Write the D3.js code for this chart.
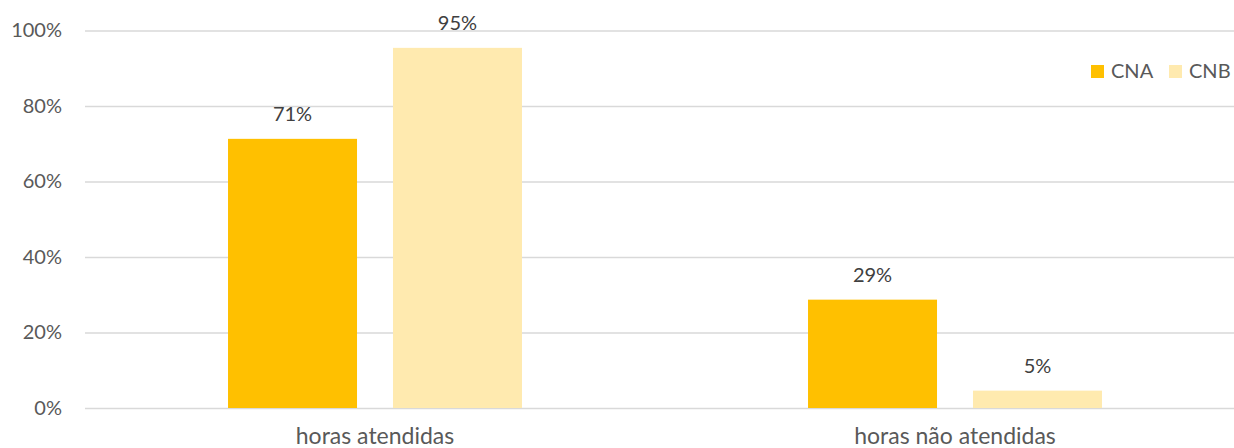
<!DOCTYPE html>
<html><head><meta charset="utf-8">
<script src="https://cdn.jsdelivr.net/npm/d3@7"></script>
<style>body{margin:0;background:#fff}svg{display:block;font-family:Lato,"Open Sans",sans-serif}</style>
</head><body><svg id="c" width="1234" height="448"></svg>
<script>
const categories = ["horas atendidas", "horas não atendidas"];
const seriesNames = ["CNA", "CNB"];
const cnaValues = [0.713, 0.287];
const cnbValues = [0.954, 0.046];
const valueLabels = [["71%", "29%"], ["95%", "5%"]];
const yTicks = [0, 0.2, 0.4, 0.6, 0.8, 1.0];
const colors = ["#FFC000", "#FFEAAF"];

const svg = d3.select("#c");
const x0 = d3.scaleBand().domain(categories).range([85, 1245]).padding(0);
const x1 = d3.scaleBand().domain(seriesNames).range([0, x0.bandwidth()]).paddingInner(0.218).paddingOuter(0.867);
const y = d3.scaleLinear().domain([0, 1]).range([408, 30.5]);

const yAxis = d3.axisLeft(y).tickValues(yTicks).tickFormat(d3.format(".0%")).tickSize(-1160).tickPadding(23);
const gy = svg.append("g").attr("transform", "translate(85,0)").call(yAxis);
gy.select(".domain").remove();
gy.selectAll(".tick line").attr("stroke", "#D9D9D9").attr("stroke-width", 1.5);
gy.selectAll(".tick text").attr("fill", "#595959").style("font-size", "20px").style("font-family", "Lato");

const data = categories.map((c, i) => ({cat: c, vals: [cnaValues[i], cnbValues[i]]}));
const groups = svg.append("g").selectAll("g").data(data).join("g")
  .attr("transform", d => `translate(${x0(d.cat)},0)`);
groups.selectAll("rect").data((d) => d.vals.map((v, j) => ({s: seriesNames[j], v, j})))
  .join("rect")
  .attr("x", d => x1(d.s)).attr("width", x1.bandwidth())
  .attr("y", d => y(d.v)).attr("height", d => y(0) - y(d.v))
  .attr("fill", d => colors[d.j]);
groups.each(function(d, i) {
  d3.select(this).selectAll("text.vl").data(d.vals.map((v, j) => ({s: seriesNames[j], v, j})))
    .join("text").attr("class", "vl")
    .attr("x", e => x1(e.s) + x1.bandwidth() / 2)
    .attr("y", e => y(e.v) - 18)
    .attr("text-anchor", "middle").attr("fill", "#404040")
    .style("font-size", "20px")
    .text(e => valueLabels[e.j][i]);
});

svg.append("g").selectAll("text").data(categories).join("text")
  .attr("x", d => x0(d) + x0.bandwidth() / 2).attr("y", 444)
  .attr("text-anchor", "middle").attr("fill", "#595959").style("font-size", "23px")
  .text(d => d);

const legX = [1091, 1169];
const leg = svg.append("g").selectAll("g").data(seriesNames).join("g")
  .attr("transform", (d, i) => `translate(${legX[i]},65)`);
leg.append("rect").attr("width", 13).attr("height", 13).attr("fill", (d, i) => colors[i]);
leg.append("text").attr("x", 20).attr("y", 12.5).attr("fill", "#595959").style("font-size", "20px").text(d => d);
</script></body></html>
